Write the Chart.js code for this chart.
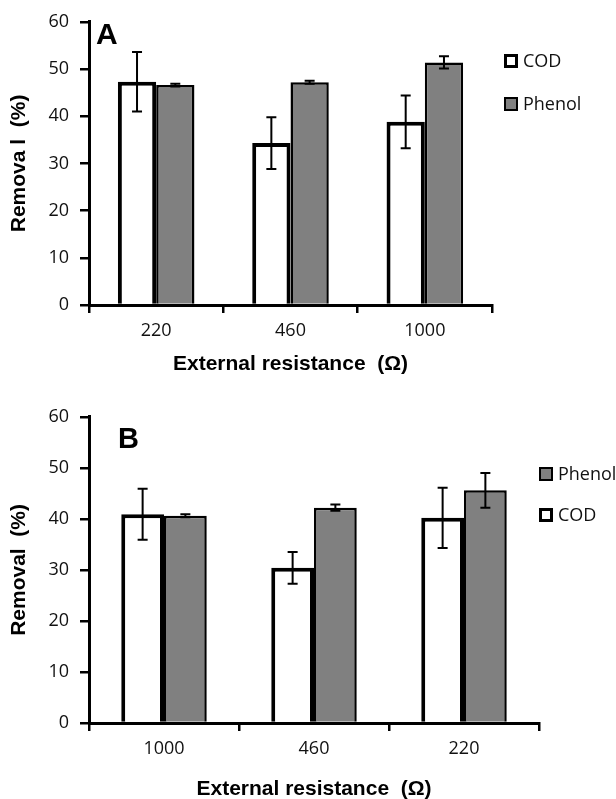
<!DOCTYPE html>
<html>
<head>
<meta charset="utf-8">
<script src="https://cdn.jsdelivr.net/npm/chart.js@4.4.1/dist/chart.umd.min.js"></script>
<style>
  html, body { margin: 0; padding: 0; background: #fff; overflow: hidden; }
  #wrapA { position: absolute; left: 0; top: 0; width: 616px; height: 395px; }
  #wrapB { position: absolute; left: 0; top: 395px; width: 616px; height: 420px; }
</style>
</head>
<body>
<div id="wrapA"><canvas id="chartA" width="616" height="395"></canvas></div>
<div id="wrapB"><canvas id="chartB" width="616" height="420"></canvas></div>
<script>
// panel A
const catsA = ['220', '460', '1000'];
const codA = [47.3, 34.3, 38.8];
const codErrA = [6.3, 5.5, 5.6];
const phenolA = [46.6, 47.2, 51.4];
const phenolErrA = [0.3, 0.3, 1.3];

// panel B
const catsB = ['1000', '460', '220'];
const codB = [40.9, 30.4, 40.2];
const codErrB = [5.0, 3.1, 5.9];
const phenolB = [40.6, 42.2, 45.6];
const phenolErrB = [0.3, 0.6, 3.4];

const yTicks = [0, 10, 20, 30, 40, 50, 60];

const GRAY = '#808080';
const TICK_FONT = { family: '"Open Sans", sans-serif', size: 18 };
const TITLE_FONT = { family: '"Liberation Sans", Arial, sans-serif', size: 21, weight: 'bold' };

// error bars, legend boxes and the panel letter
const annotPlugin = {
  id: 'annot',
  afterDatasetsDraw(chart, args, opts) {
    const ctx = chart.ctx;
    const yScale = chart.scales.y;
    ctx.save();
    ctx.strokeStyle = '#000';
    ctx.lineWidth = 2;
    opts.errors.forEach((errs, di) => {
      const meta = chart.getDatasetMeta(di);
      const vals = chart.data.datasets[di].data;
      meta.data.forEach((bar, i) => {
        const hi = yScale.getPixelForValue(vals[i] + errs[i]);
        const lo = yScale.getPixelForValue(vals[i] - errs[i]);
        ctx.beginPath();
        ctx.moveTo(bar.x, hi); ctx.lineTo(bar.x, lo);
        ctx.moveTo(bar.x - 5, hi); ctx.lineTo(bar.x + 5, hi);
        ctx.moveTo(bar.x - 5, lo); ctx.lineTo(bar.x + 5, lo);
        ctx.stroke();
      });
    });
    ctx.restore();
  },
  afterDraw(chart, args, opts) {
    const ctx = chart.ctx;
    ctx.save();
    // panel letter
    ctx.fillStyle = '#000';
    ctx.font = 'bold ' + opts.letterSize + 'px "Liberation Sans", Arial, sans-serif';
    ctx.textBaseline = 'alphabetic';
    ctx.fillText(opts.letter, opts.letterX, opts.letterY);
    // legend
    ctx.font = '18px "Open Sans", sans-serif';
    ctx.textBaseline = 'middle';
    opts.legend.forEach(item => {
      const ds = chart.data.datasets[item.ds];
      const bw = ds.borderWidth === 4 ? 3 : 2;
      ctx.fillStyle = ds.backgroundColor;
      ctx.fillRect(item.x, item.y - 7, 14, 14);
      ctx.strokeStyle = '#000';
      ctx.lineWidth = bw;
      ctx.strokeRect(item.x + bw / 2, item.y - 7 + bw / 2, 14 - bw, 14 - bw);
      ctx.fillStyle = '#111';
      ctx.fillText(ds.label, item.x + 19, item.y + 1);
    });
    ctx.restore();
  }
};

function makeChart(id, cats, cod, phenol, codErr, phenolErr, yTitle, layout) {
  const H = document.getElementById(id).height;
  return new Chart(document.getElementById(id), {
    type: 'bar',
    data: {
      labels: cats,
      datasets: [
        { label: 'COD', data: cod, backgroundColor: '#ffffff', borderColor: '#000', borderWidth: 4,
          categoryPercentage: 0.57, barPercentage: 1.0 },
        { label: 'Phenol', data: phenol, backgroundColor: GRAY, borderColor: '#000', borderWidth: 2.5,
          categoryPercentage: 0.57, barPercentage: 1.0 }
      ]
    },
    options: {
      responsive: false,
      animation: false,
      devicePixelRatio: 1,
      layout: { padding: { top: layout.top, right: layout.right, left: 0, bottom: 0 } },
      plugins: {
        legend: { display: false },
        tooltip: { enabled: false },
        annot: {
          errors: [codErr, phenolErr],
          letter: layout.letter, letterSize: layout.letterSize,
          letterX: layout.letterX, letterY: layout.letterY,
          legend: layout.legend
        }
      },
      scales: {
        x: {
          afterFit: s => { s.height = H - layout.bottom; },
          grid: { display: true, drawOnChartArea: false, drawTicks: true, tickLength: 8, color: '#000', lineWidth: 2.5, offset: true },
          border: { display: true, color: '#000', width: 3 },
          ticks: { color: '#111', font: TICK_FONT, padding: 7 },
          title: { display: true, text: 'External resistance  (Ω)', color: '#000', font: TITLE_FONT,
                   padding: { top: 0, bottom: layout.xTitlePad } }
        },
        y: {
          min: 0, max: 60,
          afterFit: s => { s.width = 89; },
          afterBuildTicks: s => { s.ticks = yTicks.map(v => ({ value: v })); },
          grid: { display: true, drawOnChartArea: false, drawTicks: true, tickLength: 9, color: '#000', lineWidth: 2.5 },
          border: { display: true, color: '#000', width: 3 },
          ticks: { color: '#111', font: TICK_FONT, padding: 11 },
          title: { display: true, text: yTitle, color: '#000', font: TITLE_FONT,
                   padding: { top: 7, bottom: 0 } }
        }
      }
    },
    plugins: [annotPlugin]
  });
}

makeChart('chartA', catsA, codA, phenolA, codErrA, phenolErrA, 'Remova l  (%)', {
  top: 15, right: 124, bottom: 305, xTitlePad: 18,
  letter: 'A', letterSize: 30, letterX: 96, letterY: 44,
  legend: [{ ds: 0, x: 504, y: 61 }, { ds: 1, x: 504, y: 104 }]
});

makeChart('chartB', catsB, codB, phenolB, codErrB, phenolErrB, 'Removal  (%)', {
  top: 11, right: 77, bottom: 328, xTitlePad: 13,
  letter: 'B', letterSize: 29, letterX: 118, letterY: 53,
  legend: [{ ds: 1, x: 539, y: 79 }, { ds: 0, x: 539, y: 120 }]
});
</script>
</body>
</html>
